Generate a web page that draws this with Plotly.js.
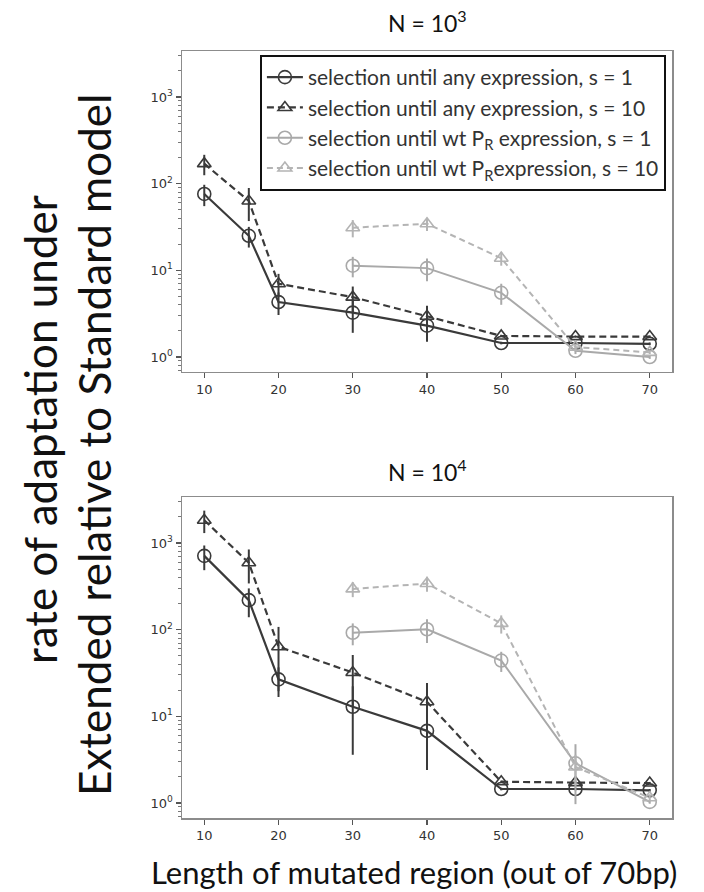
<!DOCTYPE html>
<html>
<head>
<meta charset="utf-8">
<script src="https://cdn.plot.ly/plotly-3.0.1.min.js"></script>
<style>html,body{margin:0;padding:0;background:#fff;}#chart{width:704px;height:892px;}</style>
</head>
<body>
<div id="chart"></div>
<script>
// ---- data ----
const xAny = [10, 16, 20, 30, 40, 50, 60, 70];
const xWt = [30, 40, 50, 60, 70];

// N = 10^3
const n3AnyS1 = [76, 25, 4.3, 3.25, 2.3, 1.45, 1.45, 1.42];
const n3AnyS1Err = [21, 6.7, 1.25, 1.35, 0.8, 0.05, 0.05, 0.05];
const n3AnyS10 = [170, 63, 7.0, 4.9, 2.95, 1.75, 1.72, 1.72];
const n3AnyS10Err = [45, 26, 2.1, 1.6, 0.95, 0.05, 0.05, 0.05];
const n3WtS1 = [11.3, 10.6, 5.5, 1.18, 1.0];
const n3WtS1Err = [3, 3.1, 1.5, 0.1, 0.05];
const n3WtS10 = [31, 34.5, 13.8, 1.3, 1.13];
const n3WtS10Err = [7, 6, 2.5, 0.1, 0.05];

// N = 10^4
const n4AnyS1 = [710, 219, 26.7, 12.9, 6.8, 1.45, 1.45, 1.4];
const n4AnyS1Err = [225, 80, 10, 9.3, 4.4, 0.05, 0.05, 0.05];
const n4AnyS10 = [1830, 591, 63.5, 32, 14.7, 1.76, 1.72, 1.7];
const n4AnyS10Err = [530, 250, 44, 19, 9.5, 0.05, 0.05, 0.05];
const n4WtS1 = [92, 101, 44, 2.87, 1.03];
const n4WtS1Err = [26, 31, 11.5, 1.9, 0.05];
const n4WtS10 = [295, 340, 118, 2.6, 1.15];
const n4WtS10Err = [58, 67, 28, 1.0, 0.1];

const seriesNames = [
  'selection until any expression, s = 1',
  'selection until any expression, s = 10',
  'selection until wt P<sub>R</sub> expression, s = 1',
  'selection until wt P<sub>R</sub>expression, s = 10'
];
const yTickVals = [1, 10, 100, 1000];
const yTickText = ['10<sup>0</sup>', '10<sup>1</sup>', '10<sup>2</sup>', '10<sup>3</sup>'];
const xTickVals = [10, 20, 30, 40, 50, 60, 70];

// ---- styles ----
const DARK = '#3a3a3a', LIGHT = '#a9a9a9', LIGHT2 = '#b4b4b4';
const styles = [
  {color: DARK, dash: 'solid', symbol: 'circle-open', size: 13, width: 2.2},
  {color: DARK, dash: '7px,4px', symbol: 'triangle-up-open', size: 12, width: 2.2},
  {color: LIGHT, dash: 'solid', symbol: 'circle-open', size: 13, width: 2},
  {color: LIGHT2, dash: '6px,4px', symbol: 'triangle-up-open', size: 12, width: 2}
];

function mk(i, x, y, err, xa, ya, show) {
  const s = styles[i];
  return {
    type: 'scatter', mode: 'lines+markers', x: x, y: y,
    xaxis: xa, yaxis: ya, name: seriesNames[i], showlegend: show,
    legendgroup: 'g' + i,
    line: {color: s.color, dash: s.dash, width: s.width},
    marker: {symbol: s.symbol, size: s.size, color: s.color, line: {color: s.color, width: 1.6}},
    error_y: {type: 'data', array: err, visible: true, color: s.color, thickness: 2, width: 0}
  };
}

const data = [
  mk(0, xAny, n3AnyS1, n3AnyS1Err, 'x', 'y', true),
  mk(1, xAny, n3AnyS10, n3AnyS10Err, 'x', 'y', true),
  mk(2, xWt, n3WtS1, n3WtS1Err, 'x', 'y', true),
  mk(3, xWt, n3WtS10, n3WtS10Err, 'x', 'y', true),
  mk(0, xAny, n4AnyS1, n4AnyS1Err, 'x2', 'y2', false),
  mk(1, xAny, n4AnyS10, n4AnyS10Err, 'x2', 'y2', false),
  mk(2, xWt, n4WtS1, n4WtS1Err, 'x2', 'y2', false),
  mk(3, xWt, n4WtS10, n4WtS10Err, 'x2', 'y2', false)
];

const TICKFONT = {family: 'DejaVu Sans', size: 13, color: '#333'};
const TXT = 'Lato, "Open Sans", sans-serif';

function xax(anchor) {
  return {
    anchor: anchor, domain: [0, 1], range: [7, 73],
    tickmode: 'array', tickvals: xTickVals,
    ticks: 'outside', ticklen: 5, tickwidth: 1.2, tickcolor: '#555',
    showline: true, mirror: true, linecolor: '#8c8c8c', linewidth: 1.5,
    showgrid: false, zeroline: false, tickfont: TICKFONT
  };
}
function yax(anchor, domain) {
  return {
    anchor: anchor, domain: domain, type: 'log', range: [-0.173, 3.53],
    tickmode: 'array', tickvals: yTickVals, ticktext: yTickText,
    ticks: 'outside', ticklen: 5, tickwidth: 1.2, tickcolor: '#555',
    minor: {ticks: 'outside', ticklen: 3, tickwidth: 1, tickcolor: '#777', dtick: 'D1', showgrid: false},
    showline: true, mirror: true, linecolor: '#8c8c8c', linewidth: 1.5,
    showgrid: false, zeroline: false, tickfont: TICKFONT
  };
}

const layout = {
  width: 704, height: 892,
  margin: {l: 182, r: 32, t: 51, b: 74},
  paper_bgcolor: '#fff', plot_bgcolor: '#fff',
  xaxis: xax('y'), yaxis: yax('x', [0.5815, 1]),
  xaxis2: xax('y2'), yaxis2: yax('x2', [0, 0.4185]),
  showlegend: true,
  legend: {
    x: 0.159, y: 0.9948, xanchor: 'left', yanchor: 'top',
    bgcolor: '#fff', bordercolor: '#111', borderwidth: 2,
    font: {family: TXT, size: 21, color: '#333'},
    traceorder: 'grouped', tracegroupgap: 0, itemwidth: 36
  },
  annotations: [
    {text: 'N = 10<sup>3</sup>', xref: 'paper', yref: 'paper', x: 0.5, y: 1.038,
     xanchor: 'center', yanchor: 'middle', showarrow: false, font: {family: TXT, size: 23, color: '#111'}},
    {text: 'N = 10<sup>4</sup>', xref: 'paper', yref: 'paper', x: 0.5, y: 0.4537,
     xanchor: 'center', yanchor: 'middle', showarrow: false, font: {family: TXT, size: 23, color: '#111'}},
    {text: 'rate of adaptation under', xref: 'paper', yref: 'paper',
     x: (40 - 182) / 490, y: (818 - 430) / 767, xanchor: 'center', yanchor: 'middle', textangle: -90, showarrow: false,
     font: {family: TXT, size: 44, color: '#111'}},
    {text: 'Extended relative to Standard model', xref: 'paper', yref: 'paper',
     x: (94 - 182) / 490, y: (818 - 445) / 767, xanchor: 'center', yanchor: 'middle', textangle: -90, showarrow: false,
     font: {family: TXT, size: 44, color: '#111'}},
    {text: 'Length of mutated region (out of 70bp)', xref: 'paper', yref: 'paper',
     x: (414 - 182) / 490, y: (818 - 872) / 767, xanchor: 'center', yanchor: 'middle', showarrow: false,
     font: {family: TXT, size: 31, color: '#111'}}
  ]
};

Plotly.newPlot('chart', data, layout, {displayModeBar: false, staticPlot: true});
</script>
</body>
</html>
